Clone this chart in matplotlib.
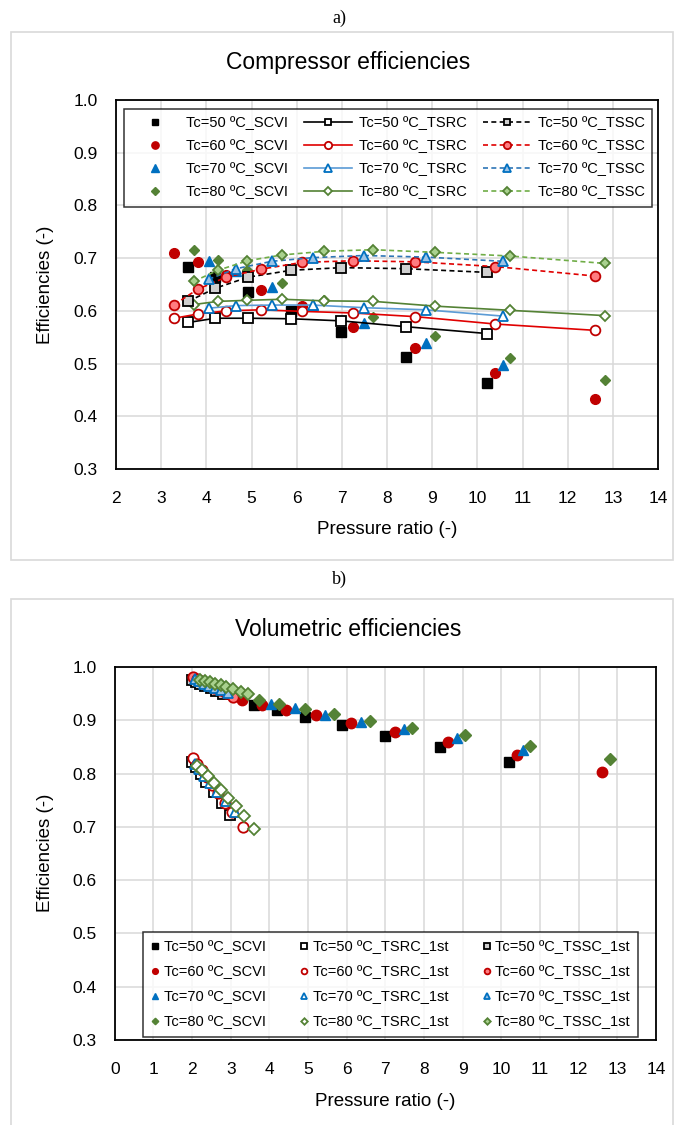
import matplotlib
matplotlib.use("Agg")
import matplotlib.pyplot as plt
from matplotlib.patches import Rectangle

plt.rcParams['font.family'] = ['Liberation Sans', 'DejaVu Sans']

# ---- data: a) compressor efficiencies ----
pr50 = [3.60, 4.20, 4.93, 5.88, 6.99, 8.41, 10.21]
pr60 = [3.29, 3.81, 4.44, 5.21, 6.12, 7.24, 8.63, 10.40, 12.61]
pr70 = [4.05, 4.66, 5.45, 6.36, 7.49, 8.86, 10.57]
pr80 = [3.72, 4.26, 4.91, 5.67, 6.61, 7.70, 9.06, 10.73, 12.82]

scvi50 = [0.684, 0.664, 0.635, 0.599, 0.560, 0.513, 0.463]
scvi60 = [0.709, 0.693, 0.668, 0.640, 0.610, 0.570, 0.529, 0.482, 0.432]
scvi70 = [0.694, 0.676, 0.646, 0.612, 0.577, 0.539, 0.497]
scvi80 = [0.716, 0.697, 0.677, 0.652, 0.620, 0.589, 0.552, 0.511, 0.468]

tsrc50 = [0.578, 0.586, 0.586, 0.585, 0.581, 0.570, 0.557]
tsrc60 = [0.586, 0.594, 0.600, 0.602, 0.599, 0.596, 0.589, 0.575, 0.563]
tsrc70 = [0.605, 0.610, 0.611, 0.611, 0.606, 0.602, 0.590]
tsrc80 = [0.612, 0.618, 0.620, 0.622, 0.619, 0.618, 0.609, 0.601, 0.591]

tssc50 = [0.618, 0.643, 0.664, 0.677, 0.682, 0.680, 0.673]
tssc60 = [0.612, 0.641, 0.664, 0.679, 0.692, 0.695, 0.693, 0.684, 0.666]
tssc70 = [0.660, 0.680, 0.694, 0.701, 0.705, 0.702, 0.694]
tssc80 = [0.656, 0.677, 0.695, 0.706, 0.713, 0.716, 0.711, 0.704, 0.690]

# ---- data: b) volumetric efficiencies ----
vol50 = [0.929, 0.919, 0.907, 0.891, 0.871, 0.849, 0.821]
vol60 = [0.9375, 0.929, 0.920, 0.909, 0.894, 0.878, 0.859, 0.834, 0.803]
vol70 = [0.930, 0.9225, 0.909, 0.897, 0.883, 0.867, 0.844]
vol80 = [0.9375, 0.930, 0.922, 0.912, 0.899, 0.886, 0.873, 0.852, 0.828]

# first stage of the two-stage cycles
rc_pr50 = [2.00, 2.10, 2.22, 2.37, 2.58, 2.78, 2.98]
rc_v50 = [0.822, 0.812, 0.800, 0.785, 0.765, 0.745, 0.723]
rc_pr60 = [2.03, 2.13, 2.25, 2.38, 2.52, 2.68, 2.85, 3.03, 3.31]
rc_v60 = [0.829, 0.818, 0.806, 0.793, 0.779, 0.763, 0.745, 0.727, 0.700]
rc_pr70 = [2.08, 2.19, 2.32, 2.47, 2.64, 2.88, 3.12]
rc_v70 = [0.818, 0.808, 0.796, 0.782, 0.766, 0.748, 0.727]
rc_pr80 = [2.14, 2.27, 2.41, 2.58, 2.74, 2.92, 3.14, 3.35, 3.60]
rc_v80 = [0.815, 0.806, 0.795, 0.782, 0.770, 0.755, 0.739, 0.720, 0.696]

sc_pr50 = [2.00, 2.10, 2.21, 2.34, 2.48, 2.63, 2.80]
sc_v50 = [0.976, 0.972, 0.968, 0.964, 0.960, 0.955, 0.949]
sc_pr60 = [2.03, 2.12, 2.22, 2.33, 2.45, 2.58, 2.72, 2.88, 3.07]
sc_v60 = [0.982, 0.978, 0.974, 0.970, 0.966, 0.961, 0.956, 0.951, 0.944]
sc_pr70 = [2.08, 2.19, 2.31, 2.45, 2.60, 2.76, 2.94]
sc_v70 = [0.977, 0.973, 0.969, 0.965, 0.961, 0.957, 0.952]
sc_pr80 = [2.20, 2.33, 2.46, 2.60, 2.74, 2.89, 3.06, 3.27, 3.45]
sc_v80 = [0.976, 0.973, 0.971, 0.968, 0.966, 0.963, 0.959, 0.953, 0.949]

temps = ["50", "60", "70", "80"]
markers = ["s", "o", "^", "D"]
dark = ["#000000", "#c00000", "#0070c0", "#548235"]
rc_line = ["#000000", "#e00000", "#5b9bd5", "#548235"]
sc_line = ["#000000", "#e00000", "#2e75b6", "#70ad47"]
light = ["#d0d0d0", "#ff7c80", "#9dc3e6", "#a9d18e"]
msz = [6.5, 7, 7, 5.5]

W, H = 678, 1125
fig = plt.figure(figsize=(W / 100, H / 100), dpi=100)


def fx(px):
    return px / W


def fy(py):
    return 1 - py / H


# outer chart boxes
fig.patches.append(Rectangle((fx(11), fy(560)), fx(662), 528 / H, transform=fig.transFigure,
                             fill=False, edgecolor="#d9d9d9", lw=1.2))
fig.patches.append(Rectangle((fx(11), -0.01), fx(662), fy(599) + 0.01, transform=fig.transFigure,
                             fill=False, edgecolor="#d9d9d9", lw=1.2))
fig.text(fx(339), fy(18), "a)", ha="center", va="center", fontsize=13, family=["Liberation Serif"])
fig.text(fx(339), fy(579), "b)", ha="center", va="center", fontsize=13, family=["Liberation Serif"])


def style_axes(ax, x0, x1, ylab_y):
    ax.set_xlim(x0, x1)
    ax.set_ylim(0.3, 1.0)
    ax.set_xticks(range(x0, x1 + 1))
    ax.set_yticks([0.3, 0.4, 0.5, 0.6, 0.7, 0.8, 0.9, 1.0])
    ax.set_yticklabels(["%.1f" % v for v in [0.3, 0.4, 0.5, 0.6, 0.7, 0.8, 0.9, 1.0]])
    ax.tick_params(length=0, labelsize=12.5)
    ax.tick_params(axis="x", pad=16)
    ax.tick_params(axis="y", pad=13)
    ax.grid(True, color="#d9d9d9", lw=1.1)
    ax.set_axisbelow(True)
    for s in ax.spines.values():
        s.set_color("black")
        s.set_linewidth(1.3)
    ax.set_xlabel("Pressure ratio (-)", fontsize=13.5, va="center")
    ax.xaxis.set_label_coords(0.5, -0.164)
    fig.text(fx(45), ylab_y, "Efficiencies (-)", rotation=90, ha="center", va="center", fontsize=13.5)


# ---- a) ----
ax1 = fig.add_axes([fx(116), fy(469), (658 - 116) / W, 369 / H])
prs = [pr50, pr60, pr70, pr80]
scvis = [scvi50, scvi60, scvi70, scvi80]
tsrcs = [tsrc50, tsrc60, tsrc70, tsrc80]
tsscs = [tssc50, tssc60, tssc70, tssc80]
h_scvi, h_rc, h_sc = [], [], []
for i in range(4):
    h, = ax1.plot(prs[i], scvis[i], ls="none", marker=markers[i], ms=msz[i], color=dark[i],
                  mec=dark[i], label="Tc=%s ºC_SCVI" % temps[i], zorder=3)
    h_scvi.append(h)
for i in range(4):
    h, = ax1.plot(prs[i], tsrcs[i], ls="-", lw=1.2, color=rc_line[i], marker=markers[i], ms=msz[i],
                  mfc="white", mec=dark[i], mew=1.3, label="Tc=%s ºC_TSRC" % temps[i], zorder=4)
    h_rc.append(h)
for i in range(4):
    h, = ax1.plot(prs[i], tsscs[i], ls=(0, (3, 2)), lw=1.2, color=sc_line[i], marker=markers[i],
                  ms=msz[i], mfc=light[i], mec=dark[i], mew=1.3, label="Tc=%s ºC_TSSC" % temps[i], zorder=5)
    h_sc.append(h)
style_axes(ax1, 2, 14, fy(285))
fig.text(fx(348), fy(62), "Compressor efficiencies", ha="center", va="center", fontsize=16.5)
leg1 = ax1.legend(handles=h_scvi + h_rc + h_sc, ncol=3, loc="upper left",
                  bbox_to_anchor=(0.014, 0.976, 0.975, 0.0), mode="expand", borderaxespad=0,
                  fontsize=10.5, frameon=True, fancybox=False, edgecolor="black",
                  handlelength=3.3, handletextpad=0.45, labelspacing=0.62, borderpad=0.5,
                  columnspacing=0.9, markerscale=0.75)
leg1.get_frame().set_linewidth(1.1)
leg1.set_zorder(10)

# ---- b) ----
ax2 = fig.add_axes([fx(114.7), fy(1040), (656 - 114.7) / W, 373 / H])
vols = [vol50, vol60, vol70, vol80]
rc_prs = [rc_pr50, rc_pr60, rc_pr70, rc_pr80]
rc_vs = [rc_v50, rc_v60, rc_v70, rc_v80]
sc_prs = [sc_pr50, sc_pr60, sc_pr70, sc_pr80]
sc_vs = [sc_v50, sc_v60, sc_v70, sc_v80]
g_scvi, g_rc, g_sc = [], [], []
for i in range(4):
    h, = ax2.plot(prs[i], vols[i], ls="none", marker=markers[i], ms=msz[i] + 0.5, color=dark[i],
                  mec=dark[i], label="Tc=%s ºC_SCVI" % temps[i], zorder=3)
    g_scvi.append(h)
for i in range(4):
    h, = ax2.plot(rc_prs[i], rc_vs[i], ls="none", marker=markers[i], ms=msz[i] + 0.5, mfc="white",
                  mec=dark[i], mew=1.3, label="Tc=%s ºC_TSRC_1st" % temps[i], zorder=4)
    g_rc.append(h)
for i in range(4):
    h, = ax2.plot(sc_prs[i], sc_vs[i], ls="none", marker=markers[i], ms=msz[i] + 0.5, mfc=light[i],
                  mec=dark[i], mew=1.3, label="Tc=%s ºC_TSSC_1st" % temps[i], zorder=5)
    g_sc.append(h)
style_axes(ax2, 0, 14, fy(853))
fig.text(fx(348), fy(630), "Volumetric efficiencies", ha="center", va="center", fontsize=16.5)
leg2 = ax2.legend(handles=g_scvi + g_rc + g_sc, ncol=3, loc="lower left",
                  bbox_to_anchor=(0.052, 0.008, 0.915, 0.0), mode="expand", borderaxespad=0,
                  fontsize=10.5, frameon=True, fancybox=False, edgecolor="black",
                  handlelength=0.6, handletextpad=0.3, labelspacing=0.75, borderpad=0.55,
                  columnspacing=1.0, markerscale=0.55)
leg2.get_frame().set_linewidth(1.1)
leg2.set_zorder(10)

fig.savefig("out.png", dpi=100)
